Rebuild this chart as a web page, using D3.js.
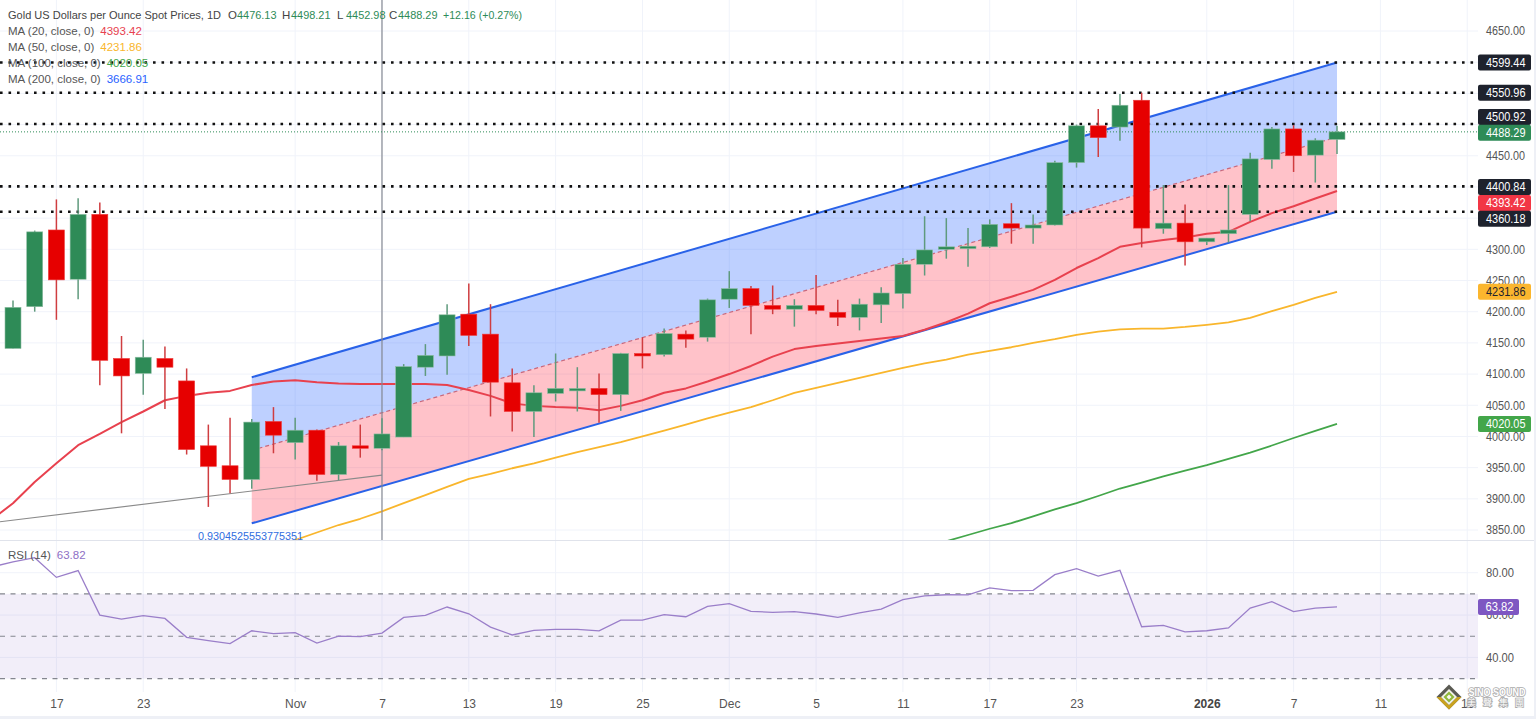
<!DOCTYPE html>
<html>
<head>
<meta charset="utf-8">
<script src="https://d3js.org/d3.v7.min.js"></script>
<style>
  html, body { margin:0; padding:0; background:#fff; }
  svg { display:block; }
  text { font-family:"Liberation Sans", Arial, sans-serif; }
  .axis path, .axis line { display:none; }
  .axis text { fill:#555; font-size:12px; }
  .grid { stroke:#f0f3fa; stroke-width:1; }
  .tag { font-size:12px; }
</style>
</head>
<body>
<div id="container"></div>
<script>
// ohlc, one entry per trading day
var opens  = [4141,4208,4331,4252,4356,4125,4101,4125,4089,3985,3953,3931,4024,3990,4010,3939,3985,3981,3999,4111,4129,4196,4164,4086,4040,4069,4076,4077,4067,4133,4131,4164,4159,4220,4237,4210,4204,4210,4199,4191,4211,4229,4276,4300,4303,4304,4341,4334,4339,4439,4498,4496,4539,4333,4342,4312,4325,4356,4444,4493,4451,4476.13];
var highs  = [4218,4330,4380,4382,4375,4161,4155,4144,4109,4019,4030,4028,4047,4030,4011,3991,4019,4029,4116,4148,4212,4245,4212,4109,4082,4133,4111,4101,4134,4159,4173,4170,4221,4265,4241,4242,4220,4259,4219,4221,4239,4286,4353,4350,4334,4348,4374,4356,4442,4500,4525,4549,4551,4403,4372,4318,4403,4455,4496,4499,4478,4498.21];
var lows   = [4141,4200,4187,4220,4082,4005,4067,4044,3971,3887,3909,3916,3973,3963,3929,3930,3966,3978,3999,4097,4099,4145,4032,4008,3999,4056,4040,4022,4041,4109,4128,4142,4152,4206,4164,4196,4176,4196,4177,4170,4182,4205,4258,4285,4272,4302,4309,4309,4338,4431,4448,4474,4303,4325,4274,4307,4311,4345,4429,4424,4407,4452.98];
var closes = [4207,4328,4251,4356,4122,4097,4127,4111,3979,3952,3931,4023,4002,4010,3939,3985,3981,4004,4112,4130,4195,4162,4087,4040,4070,4077,4077,4067,4133,4132,4165,4156,4219,4237,4210,4204,4210,4202,4191,4212,4230,4276,4299,4304,4305,4340,4334,4339,4439,4498,4479,4531,4334,4342,4312,4318,4331,4445,4493,4450,4475,4488.29];

// moving averages, first value sits at the index in the *Start variable
var ma20Start = -1;
var ma20 = [3866,3893,3927,3957,3986,4004,4023,4040,4058,4065,4070,4073,4082.5,4088,4090,4087,4085,4084,4084,4084,4084,4082.5,4074.5,4065,4053,4049,4047,4046,4042,4049,4058,4070,4077,4088,4100,4113,4128,4140,4145,4149,4153,4157,4161,4171,4183,4197,4213.5,4224,4235,4251,4270,4286,4304,4310,4315,4319,4325,4328,4344,4358,4369,4381.5,4393.42];
var ma50Start = 13;
var ma50 = [3834,3846,3858,3868,3880,3893,3906,3919,3932,3940,3949,3957,3966,3975,3983,3991,4000,4009.5,4019,4029,4038,4047,4058,4070,4078,4086,4094,4102,4110,4117,4123,4131,4137,4143,4150,4156,4163,4168,4171.5,4173,4173,4175.5,4179,4183,4190,4201,4211,4222,4231.86];
var ma100Start = 43;
var ma100 = [3832,3842,3852,3861,3872,3883,3893,3904.5,3916.5,3926,3936,3945,3954,3964,3974,3985.5,3997.5,4009,4020.05];

var rsiStart = -1;
var rsi = [82.7,85.06,87.1,77.8,81,60,58.1,59.7,58.4,49.5,47.9,46.5,52.6,51.2,51.7,46.8,50.1,49.8,51.5,58.9,59.9,63.8,60.6,54.3,50.6,52.8,53.2,53.2,52.5,57.6,57.6,60.2,59.2,64.1,65.4,61.7,61.3,61.6,60.5,58.9,61,62.8,67.3,69.1,69.6,69.5,72.8,71.5,71.7,79.1,81.9,78.4,81.1,54.5,55.1,52.1,52.6,53.9,63.3,66.3,61.6,63.3,63.82];

// channel: [start index, end index] and prices at both ends
var channelIdx = [11, 61];
var channelUpper = [4094.8, 4599.44];
var channelLower = [3860.7, 4360.18];

var trendIdx = [-1, 17];
var trendPrice = [3861.5, 3938];
var markerIdx = 17;

var levels = [4599.44, 4550.96, 4500.92, 4400.84, 4360.18];
var lastPrice = 4488.29;

var priceGrid = [4650,4600,4550,4500,4450,4400,4350,4300,4250,4200,4150,4100,4050,4000,3950,3900,3850];
// the others are hidden by the price tags in the picture
var priceTicks = [4650,4450,4300,4250,4200,4150,4100,4050,4000,3950,3900,3850];
var rsiTicks = [80,60,40];
var rsiBands = [70,50,30];

var dateTickIdx = [2,6,13,17,21,25,29,33,37,41,45,49,55,59,63,67];
var dateTickLabels = ["17","23","Nov","7","13","19","25","Dec","5","11","17","23","2026","7","11","15"];

var maLegend = [["MA (20, close, 0)","4393.42"],["MA (50, close, 0)","4231.86"],["MA (100, close, 0)","4020.05"],["MA (200, close, 0)","3666.91"]];

var W = 1536, H = 719;
var paneRight = 1478, paneBottom = 540, rsiBottom = 692;
var green = "#2e8b57", red = "#e60000";
var maColors = ["#e8414e","#f9b62c","#43a64a","#2962ff"];

var svg = d3.select("#container").append("svg").attr("width",W).attr("height",H);

var x = d3.scaleLinear().domain([0,61]).range([13,1337]);
var y = d3.scaleLinear().domain([3850,4650]).range([530,31]);
var rsiY = d3.scaleLinear().domain([30,80]).range([678.6,572.7]);

svg.append("defs").append("clipPath").attr("id","main").append("rect")
  .attr("x",0).attr("y",0).attr("width",paneRight).attr("height",paneBottom);

// grid
var grid = svg.append("g");
grid.selectAll(".gv").data(dateTickIdx).enter().append("line").attr("class","grid")
  .attr("x1",function(d){return x(d)}).attr("x2",function(d){return x(d)})
  .attr("y1",0).attr("y2",rsiBottom);
grid.selectAll(".gh").data(priceGrid).enter().append("line").attr("class","grid")
  .attr("x1",0).attr("x2",paneRight)
  .attr("y1",function(d){return y(d)}).attr("y2",function(d){return y(d)});
grid.selectAll(".gr").data(rsiTicks).enter().append("line").attr("class","grid")
  .attr("x1",0).attr("x2",paneRight)
  .attr("y1",function(d){return rsiY(d)}).attr("y2",function(d){return rsiY(d)});

var main = svg.append("g").attr("clip-path","url(#main)");

// channel fills
var mid = [(channelUpper[0]+channelLower[0])/2, (channelUpper[1]+channelLower[1])/2];
function band(a,b){
  return d3.area().x(function(d){return x(d)})
    .y0(function(d,i){return y(b[i])}).y1(function(d,i){return y(a[i])})(channelIdx);
}
main.append("path").attr("d",band(channelUpper,mid)).attr("fill","rgba(41,98,255,0.3)");
main.append("path").attr("d",band(mid,channelLower)).attr("fill","rgba(255,20,45,0.26)");

var chLine = function(vals){
  return d3.line().x(function(d){return x(d)}).y(function(d,i){return y(vals[i])})(channelIdx);
};
main.append("path").attr("d",chLine(mid)).attr("fill","none").attr("stroke","#c8687c").attr("stroke-width",1.2).attr("stroke-dasharray","4 3");
main.append("path").attr("d",chLine(channelUpper)).attr("fill","none").attr("stroke","#2962e8").attr("stroke-width",2);
main.append("path").attr("d",chLine(channelLower)).attr("fill","none").attr("stroke","#2962e8").attr("stroke-width",2);

// grey trend line and vertical marker
main.append("path").attr("d",d3.line().x(function(d){return x(d)}).y(function(d,i){return y(trendPrice[i])})(trendIdx))
  .attr("fill","none").attr("stroke","#8a8a8a").attr("stroke-width",1.2);
svg.append("line").attr("x1",x(markerIdx)).attr("x2",x(markerIdx)).attr("y1",0).attr("y2",paneBottom)
  .attr("stroke","#868993").attr("stroke-width",1.2);

// moving averages
function maLine(vals,start,color,w){
  main.append("path").datum(vals)
    .attr("d",d3.line().x(function(d,i){return x(i+start)}).y(function(d){return y(d)}))
    .attr("fill","none").attr("stroke",color).attr("stroke-width",w).attr("stroke-linejoin","round");
}
maLine(ma50,ma50Start,maColors[1],1.8);
maLine(ma100,ma100Start,maColors[2],1.8);
maLine(ma20,ma20Start,maColors[0],2);

// last price and dotted levels
svg.append("line").attr("x1",0).attr("x2",paneRight).attr("y1",y(lastPrice)).attr("y2",y(lastPrice))
  .attr("stroke",green).attr("stroke-width",1).attr("stroke-dasharray","1 2");
svg.selectAll(".level").data(levels).enter().append("line").attr("class","level")
  .attr("x1",0).attr("x2",paneRight)
  .attr("y1",function(d){return y(d)}).attr("y2",function(d){return y(d)})
  .attr("stroke","#111").attr("stroke-width",2.6).attr("stroke-dasharray","2.6 5.9");

// candles
var candles = d3.range(opens.length);
var gc = svg.append("g");
gc.selectAll(".wick").data(candles).enter().append("line").attr("class","wick")
  .attr("x1",function(i){return x(i)}).attr("x2",function(i){return x(i)})
  .attr("y1",function(i){return y(highs[i])}).attr("y2",function(i){return y(lows[i])})
  .attr("stroke",function(i){return closes[i]>=opens[i] ? "#5f9a7d" : "#cf3d40"})
  .attr("stroke-width",1.5);
gc.selectAll(".body").data(candles).enter().append("rect").attr("class","body")
  .attr("x",function(i){return x(i)-8}).attr("width",16)
  .attr("y",function(i){return y(Math.max(opens[i],closes[i]))})
  .attr("height",function(i){return Math.max(2.5,Math.abs(y(opens[i])-y(closes[i])))})
  .attr("fill",function(i){return closes[i]>=opens[i] ? green : red})
  .attr("stroke",function(i){return closes[i]>=opens[i] ? "#8fbda3" : "#ef3a3a"})
  .attr("stroke-width",0.6);

// channel label
svg.append("text").attr("x",198).attr("y",540).attr("fill","#2f6de0").attr("font-size",11.5)
  .attr("textLength",105).attr("lengthAdjust","spacingAndGlyphs").text("0.9304525553775351");

// rsi pane
svg.append("line").attr("x1",0).attr("x2",W).attr("y1",paneBottom+0.5).attr("y2",paneBottom+0.5).attr("stroke","#e0e3eb");
svg.append("rect").attr("x",0).attr("width",paneRight)
  .attr("y",rsiY(rsiBands[0])).attr("height",rsiY(rsiBands[2])-rsiY(rsiBands[0]))
  .attr("fill","rgba(126,87,194,0.1)");
svg.selectAll(".rb").data(rsiBands).enter().append("line").attr("class","rb")
  .attr("x1",0).attr("x2",paneRight)
  .attr("y1",function(d){return rsiY(d)}).attr("y2",function(d){return rsiY(d)})
  .attr("stroke","#84868f").attr("stroke-width",1.2).attr("stroke-dasharray","5 5.5");
svg.append("path").datum(rsi)
  .attr("d",d3.line().x(function(d,i){return x(i+rsiStart)}).y(function(d){return rsiY(d)}))
  .attr("fill","none").attr("stroke","#9a7ec9").attr("stroke-width",1.3);

// axes
var pAxis = svg.append("g").attr("class","axis").attr("transform","translate("+paneRight+",0)")
  .call(d3.axisRight(y).tickValues(priceTicks).tickSize(0).tickPadding(8).tickFormat(d3.format(".2f")));
pAxis.selectAll("text").attr("textLength",39).attr("lengthAdjust","spacingAndGlyphs");
var rAxis = svg.append("g").attr("class","axis").attr("transform","translate("+paneRight+",0)")
  .call(d3.axisRight(rsiY).tickValues(rsiTicks).tickSize(0).tickPadding(8).tickFormat(d3.format(".2f")));
rAxis.selectAll("text").attr("textLength",28).attr("lengthAdjust","spacingAndGlyphs");
var xAxis = svg.append("g").attr("class","axis").attr("transform","translate(0,692)")
  .call(d3.axisBottom(x).tickValues(dateTickIdx).tickSize(0).tickPadding(7)
    .tickFormat(function(d,i){return dateTickLabels[i]}));
xAxis.selectAll("text").filter(function(d,i){return dateTickLabels[i]=="2026"}).attr("font-weight","bold").style("fill","#444");

// price tags: real value, shift to avoid overlaps, colours
var tagPrices = [4599.44,4550.96,4500.92,4488.29,4400.84,4393.42,4360.18,4231.86,4020.05];
var tagShift  = [0,0,-7,1,0.5,12,7,0,0];
var tagFill   = ["#1e222d","#1e222d","#1e222d",green,"#1e222d","#f23645","#1e222d","#fbb62e","#43a64a"];
var tagInk    = ["#fff","#fff","#fff","#fff","#fff","#fff","#fff","#1e222d","#fff"];
var tags = svg.selectAll(".pt").data(tagPrices).enter().append("g").attr("class","pt")
  .attr("transform",function(d,i){return "translate("+paneRight+","+(y(d)+tagShift[i])+")"});
tags.append("rect").attr("x",0).attr("y",-8).attr("width",53).attr("height",16).attr("rx",2)
  .attr("fill",function(d,i){return tagFill[i]});
tags.append("text").attr("class","tag").attr("x",8).attr("dy","0.35em")
  .attr("textLength",39.5).attr("lengthAdjust","spacingAndGlyphs")
  .attr("fill",function(d,i){return tagInk[i]}).text(function(d){return d3.format(".2f")(d)});

var rsiTag = svg.append("g").attr("transform","translate("+paneRight+","+rsiY(63.82)+")");
rsiTag.append("rect").attr("y",-8).attr("width",41).attr("height",16).attr("rx",2).attr("fill","#7e57c2");
rsiTag.append("text").attr("class","tag").attr("x",7.5).attr("dy","0.35em")
  .attr("textLength",28).attr("lengthAdjust","spacingAndGlyphs").attr("fill","#fff").text("63.82");

// header and legend
var legend = svg.append("g").attr("font-size",11.5);
legend.append("text").attr("x",8).attr("y",19).attr("fill","#444")
  .attr("textLength",213).attr("lengthAdjust","spacingAndGlyphs")
  .text("Gold US Dollars per Ounce Spot Prices, 1D");
var ohlc = [["O","4476.13",228],["H","4498.21",282],["L","4452.98",337],["C","4488.29",389]];
ohlc.forEach(function(d){
  legend.append("text").attr("x",d[2]).attr("y",19).attr("fill","#444").text(d[0]);
  legend.append("text").attr("x",d[2]+9).attr("y",19).attr("fill",green)
    .attr("textLength",39.5).attr("lengthAdjust","spacingAndGlyphs").text(d[1]);
});
legend.append("text").attr("x",443).attr("y",19).attr("fill",green)
  .attr("textLength",79).attr("lengthAdjust","spacingAndGlyphs").text("+12.16 (+0.27%)");
maLegend.forEach(function(d,i){
  var t = legend.append("text").attr("x",8).attr("y",35+i*16).attr("fill","#555");
  t.append("tspan").text(d[0]);
  t.append("tspan").attr("dx",6).attr("fill",maColors[i]).text(d[1]);
});
var rsiHead = svg.append("text").attr("x",8).attr("y",559).attr("font-size",11.5).attr("fill","#555");
rsiHead.append("tspan").text("RSI (14)");
rsiHead.append("tspan").attr("dx",6).attr("fill","#8e6fc5").text("63.82");

// page edge
svg.append("rect").attr("x",0).attr("y",716).attr("width",W).attr("height",3).attr("fill","#eef0f6");
svg.append("rect").attr("x",1534).attr("y",0).attr("width",2).attr("height",H).attr("fill","#eef0f6");

// watermark
var wm = svg.append("g").attr("transform","translate(1449,697)");
wm.append("path").attr("d","M0,-12.5L12.5,0L0,12.5L-12.5,0Z").attr("fill","#5a5a52");
wm.append("path").attr("d","M-12.5,0L0,12.5L12.5,0L8,0L0,8L-8,0Z").attr("fill","#c9a21f");
wm.append("path").attr("d","M0,-8L8,0L0,8L-8,0Z").attr("fill","#f2f2ea");
wm.append("path").attr("d","M0,-5.5L5.5,0L0,5.5L-5.5,0Z").attr("fill","#8fb83a");
wm.append("path").attr("d","M0,-2.5L2.5,0L0,2.5L-2.5,0Z").attr("fill","#f5f5f0");
svg.append("text").attr("x",1468.5).attr("y",696).attr("font-size",10).attr("font-weight","bold")
  .attr("textLength",57).attr("lengthAdjust","spacingAndGlyphs")
  .attr("fill","#fff").attr("stroke","#aaa").attr("stroke-width",1.6).attr("paint-order","stroke").text("SINO SOUND");
svg.append("text").attr("x",1467).attr("y",706).attr("font-size",9).attr("letter-spacing","7px")
  .style("font-family","'Noto Sans CJK TC'")
  .attr("fill","#fff").attr("stroke","#aaa").attr("stroke-width",1.6).attr("paint-order","stroke").text("美聲集團");
</script>
</body>
</html>
